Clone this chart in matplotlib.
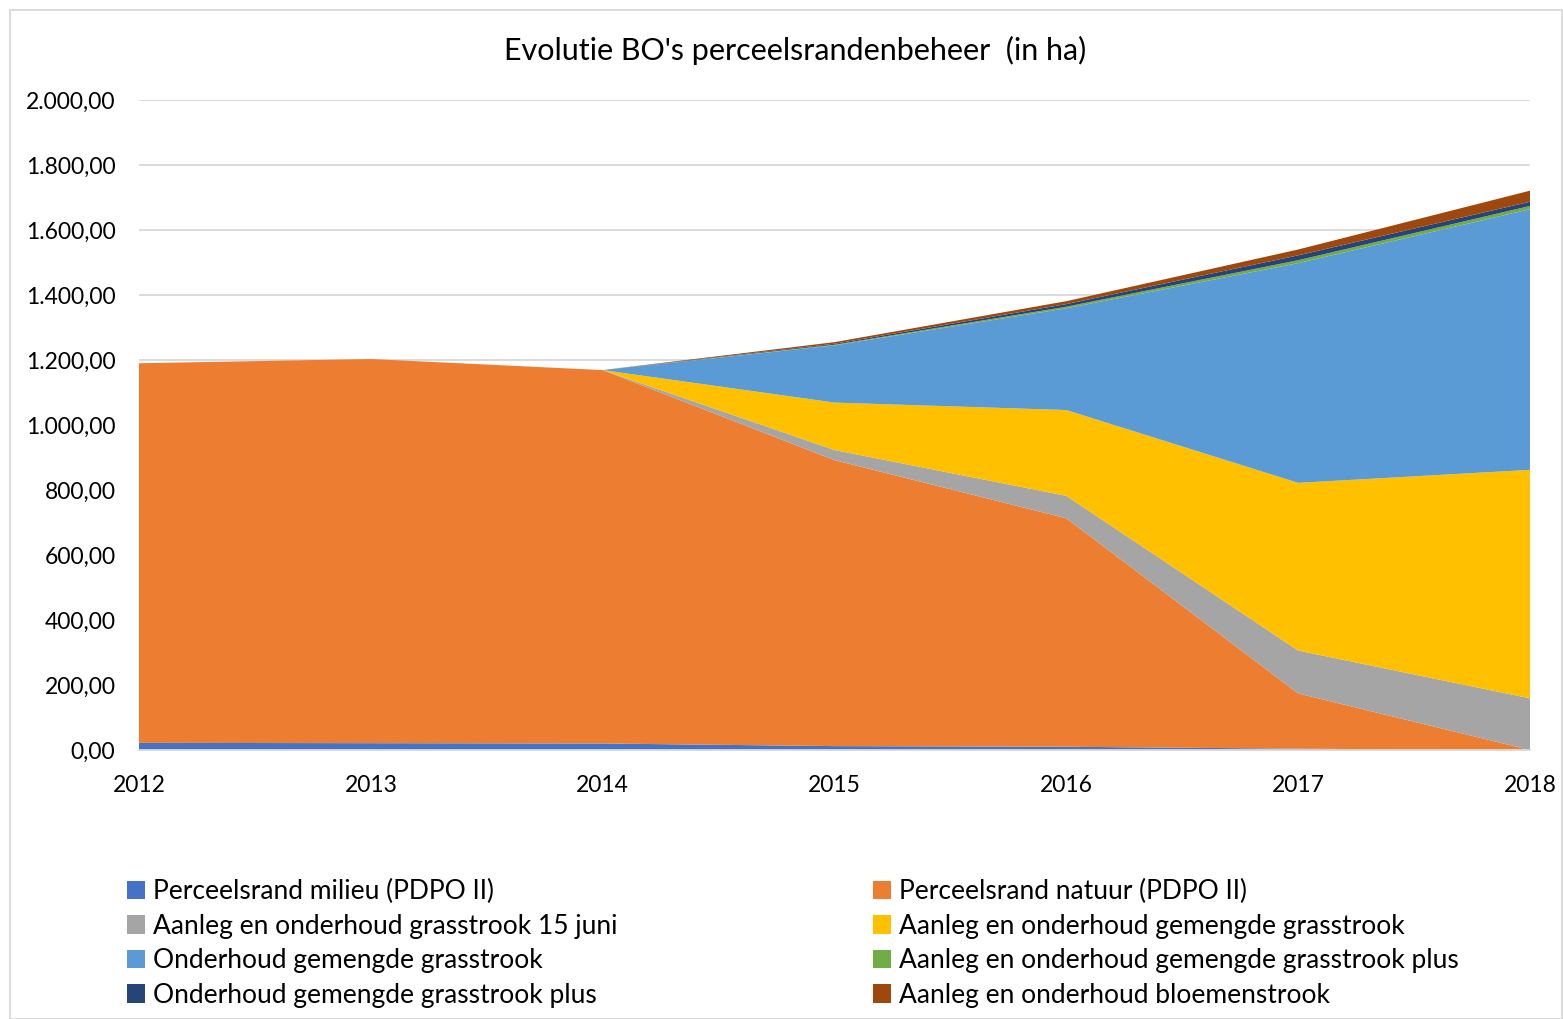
import matplotlib.pyplot as plt
import numpy as np
from matplotlib.patches import Rectangle, Patch
from matplotlib.ticker import FuncFormatter

plt.rcParams['font.family'] = ['Lato', 'DejaVu Sans']

# Data (ha)
years = [2012, 2013, 2014, 2015, 2016, 2017, 2018]
milieu = [22, 21, 20, 12, 10, 4, 0]
natuur = [1168, 1182, 1149, 880, 703, 170, 0]
grasstrook_15juni = [0, 0, 0, 31, 69, 132, 159]
gemengde = [0, 0, 0, 146, 264, 516, 703]
onderhoud_gemengde = [0, 0, 0, 176, 313, 676, 802]
gemengde_plus = [0, 0, 0, 2, 5, 9, 10]
onderhoud_plus = [0, 0, 0, 3, 8, 15, 13]
bloemenstrook = [0, 0, 0, 5, 9, 18, 34]

labels = [
    "Perceelsrand milieu (PDPO II)",
    "Perceelsrand natuur (PDPO II)",
    "Aanleg en onderhoud grasstrook 15 juni",
    "Aanleg en onderhoud gemengde grasstrook",
    "Onderhoud gemengde grasstrook",
    "Aanleg en onderhoud gemengde grasstrook plus",
    "Onderhoud gemengde grasstrook plus",
    "Aanleg en onderhoud bloemenstrook",
]
colors = ["#4472C4", "#ED7D31", "#A5A5A5", "#FFC000",
          "#5B9BD5", "#70AD47", "#264478", "#9E480E"]


def nl_format(v, pos):
    s = f"{v:,.2f}"
    return s.replace(",", "X").replace(".", ",").replace("X", ".")


def main():
    series = [milieu, natuur, grasstrook_15juni, gemengde,
              onderhoud_gemengde, gemengde_plus, onderhoud_plus, bloemenstrook]

    fig = plt.figure(figsize=(15.63, 10.19), dpi=100)
    ax = fig.add_axes([139 / 1563, 1 - 750 / 1019, (1530 - 139) / 1563, 650 / 1019])

    ax.stackplot(years, *series, colors=colors, labels=labels, linewidth=0)

    ax.set_xlim(2012, 2018)
    ax.set_ylim(0, 2000)
    ax.set_yticks(np.arange(0, 2001, 200))
    ax.yaxis.set_major_formatter(FuncFormatter(nl_format))
    ax.set_xticks(years)
    ax.grid(axis="y", color="#d9d9d9", linewidth=1.3)
    ax.set_axisbelow(True)
    for side in ["top", "right", "left"]:
        ax.spines[side].set_visible(False)
    ax.spines["bottom"].set_color("#d9d9d9")
    ax.spines["bottom"].set_linewidth(1.3)
    ax.tick_params(axis="both", length=0, labelsize=16.5, colors="#000000")
    ax.tick_params(axis="y", pad=17)
    ax.tick_params(axis="x", pad=18)

    fig.text(795 / 1563, 1 - 50 / 1019, "Evolutie BO's perceelsrandenbeheer  (in ha)",
             ha="center", va="center", fontsize=22)

    # legend in row order like the original
    handles = [Patch(facecolor=c) for c in colors]
    order = [0, 2, 4, 6, 1, 3, 5, 7]
    fig.legend([handles[i] for i in order], [labels[i] for i in order],
               ncol=2, loc="upper left", bbox_to_anchor=(127 / 1563, 1 - 879 / 1019),
               frameon=False, fontsize=19, handlelength=0.7, handleheight=0.7,
               handletextpad=0.3, labelspacing=0.36, columnspacing=9.65,
               borderaxespad=0, borderpad=0)

    # light border around the chart
    fig.patches.append(Rectangle((10 / 1563, 0), 1 - 10 / 1563 - 0.0005, 1 - 10 / 1019,
                                 transform=fig.transFigure, fill=False,
                                 edgecolor="#d9d9d9", linewidth=1.3))

    plt.savefig("out.png", dpi=100)


if __name__ == "__main__":
    main()
